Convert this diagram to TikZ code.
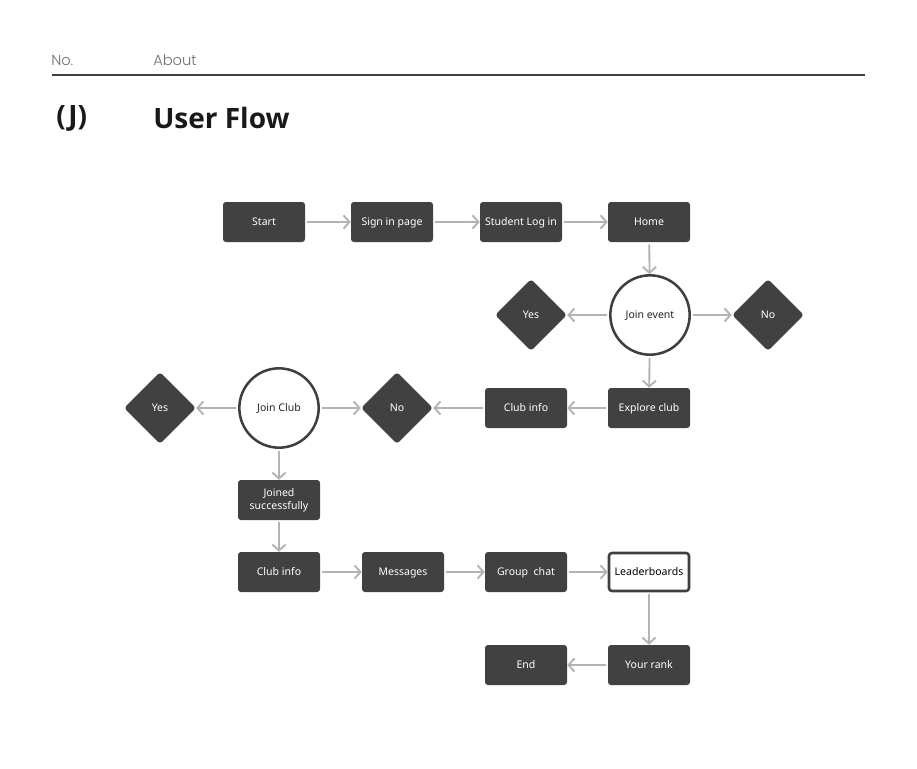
\documentclass[tikz,border=0pt]{standalone}
\usepackage{fontspec}
\setmainfont{Noto Sans}
\newfontfamily\headfont{Poppins Light}
\newfontfamily\titlefont{Open Sans}
\usetikzlibrary{arrows.meta,shapes.geometric}
\definecolor{boxfill}{HTML}{414141}
\definecolor{arrowgray}{HTML}{B3B3B3}
\definecolor{ringdark}{HTML}{3F3F3F}
\definecolor{headgray}{HTML}{707070}
\tikzset{
  stepbox/.style={draw=none,fill=boxfill,rounded corners=2.2pt,minimum width=61.5pt,minimum height=30pt,inner sep=1pt,text=white,font=\fontsize{7.9}{10}\selectfont,align=center,text height=5.6pt,text depth=0pt},
  whitebox/.style={stepbox,fill=white,draw=ringdark,line width=1.9pt,text=black,minimum width=60pt,minimum height=28.5pt},
  decision/.style={circle,draw=ringdark,line width=1.9pt,fill=white,minimum size=59.5pt,inner sep=0pt,text=black!85,font=\fontsize{7.9}{10}\selectfont,text height=5.6pt,text depth=0pt},
  answer/.style={diamond,fill=boxfill,rounded corners=2.5pt,minimum width=54pt,minimum height=54pt,aspect=1,inner sep=0pt,text=white,font=\fontsize{7.9}{10}\selectfont,text height=5.6pt,text depth=0pt},
  flow/.style={draw=arrowgray,line width=1.4pt,-{Straight Barb[length=4.5pt,width=10pt,line width=1.4pt]},shorten <=1.5pt}
}
\begin{document}
\begin{tikzpicture}[x=0.75pt,y=-0.75pt]
\useasboundingbox (0,0) rectangle (917,768);
\fill[white] (0,0) rectangle (917,768);
% header
\node[anchor=west,inner sep=0pt,text=headgray,font=\headfont\fontsize{11}{13}\selectfont] (no) at (51,60) {No.};
\node[anchor=west,inner sep=0pt,text=headgray,font=\headfont\fontsize{11}{13}\selectfont] (about) at (153,60) {About};
\coordinate (ruleL) at (52,75);
\coordinate (ruleR) at (865,75);
\draw[line width=0.8pt,black!75] (ruleL) -- (ruleR);
\node[anchor=west,inner sep=0pt,text=black!90,font=\titlefont\bfseries\fontsize{21}{25}\selectfont] (jlabel) at (56,118) {(J)};
\node[anchor=west,inner sep=0pt,text=black!90,font=\titlefont\bfseries\fontsize{21}{25}\selectfont] (title) at (153,118) {User Flow};
% row 1
\node[stepbox] (start) at (264,222) {Start};
\node[stepbox] (signin) at (392,222) {Sign in page};
\node[stepbox] (login) at (521,222) {Student Log in};
\node[stepbox] (home) at (649,222) {Home};
% join event
\node[decision] (joinevent) at (650,315) {Join event};
\node[answer] (yes1) at (531,315) {Yes};
\node[answer] (no1) at (768,315) {No};
% row 2
\node[stepbox] (explore) at (649,408) {Explore club};
\node[stepbox] (clubinfo1) at (526,408) {Club info};
\node[answer] (no2) at (397,408) {No};
\node[decision] (joinclub) at (279,408) {Join Club};
\node[answer] (yes2) at (160,408) {Yes};
% joined
\node[stepbox,text height=,text depth=] (joined) at (279,500) {Joined\\successfully};
% row 3
\node[stepbox] (clubinfo2) at (279,572) {Club info};
\node[stepbox] (messages) at (403,572) {Messages};
\node[stepbox] (group) at (526,572) {Group\ \ chat};
\node[whitebox] (leader) at (649,572) {Leaderboards};
% row 4
\node[stepbox] (rank) at (649,665) {Your rank};
\node[stepbox] (end) at (526,665) {End};
% connectors
\draw[flow] (start) -- (signin);
\draw[flow] (signin) -- (login);
\draw[flow] (login) -- (home);
\draw[flow] (home) -- (joinevent);
\draw[flow] (joinevent) -- (yes1);
\draw[flow] (joinevent) -- (no1);
\draw[flow] (joinevent) -- (explore);
\draw[flow] (explore) -- (clubinfo1);
\draw[flow] (clubinfo1) -- (no2);
\draw[flow] (joinclub) -- (no2);
\draw[flow] (joinclub) -- (yes2);
\draw[flow] (joinclub) -- (joined);
\draw[flow] (joined) -- (clubinfo2);
\draw[flow] (clubinfo2) -- (messages);
\draw[flow] (messages) -- (group);
\draw[flow] (group) -- (leader);
\draw[flow] (leader) -- (rank);
\draw[flow] (rank) -- (end);
\end{tikzpicture}
\end{document}
